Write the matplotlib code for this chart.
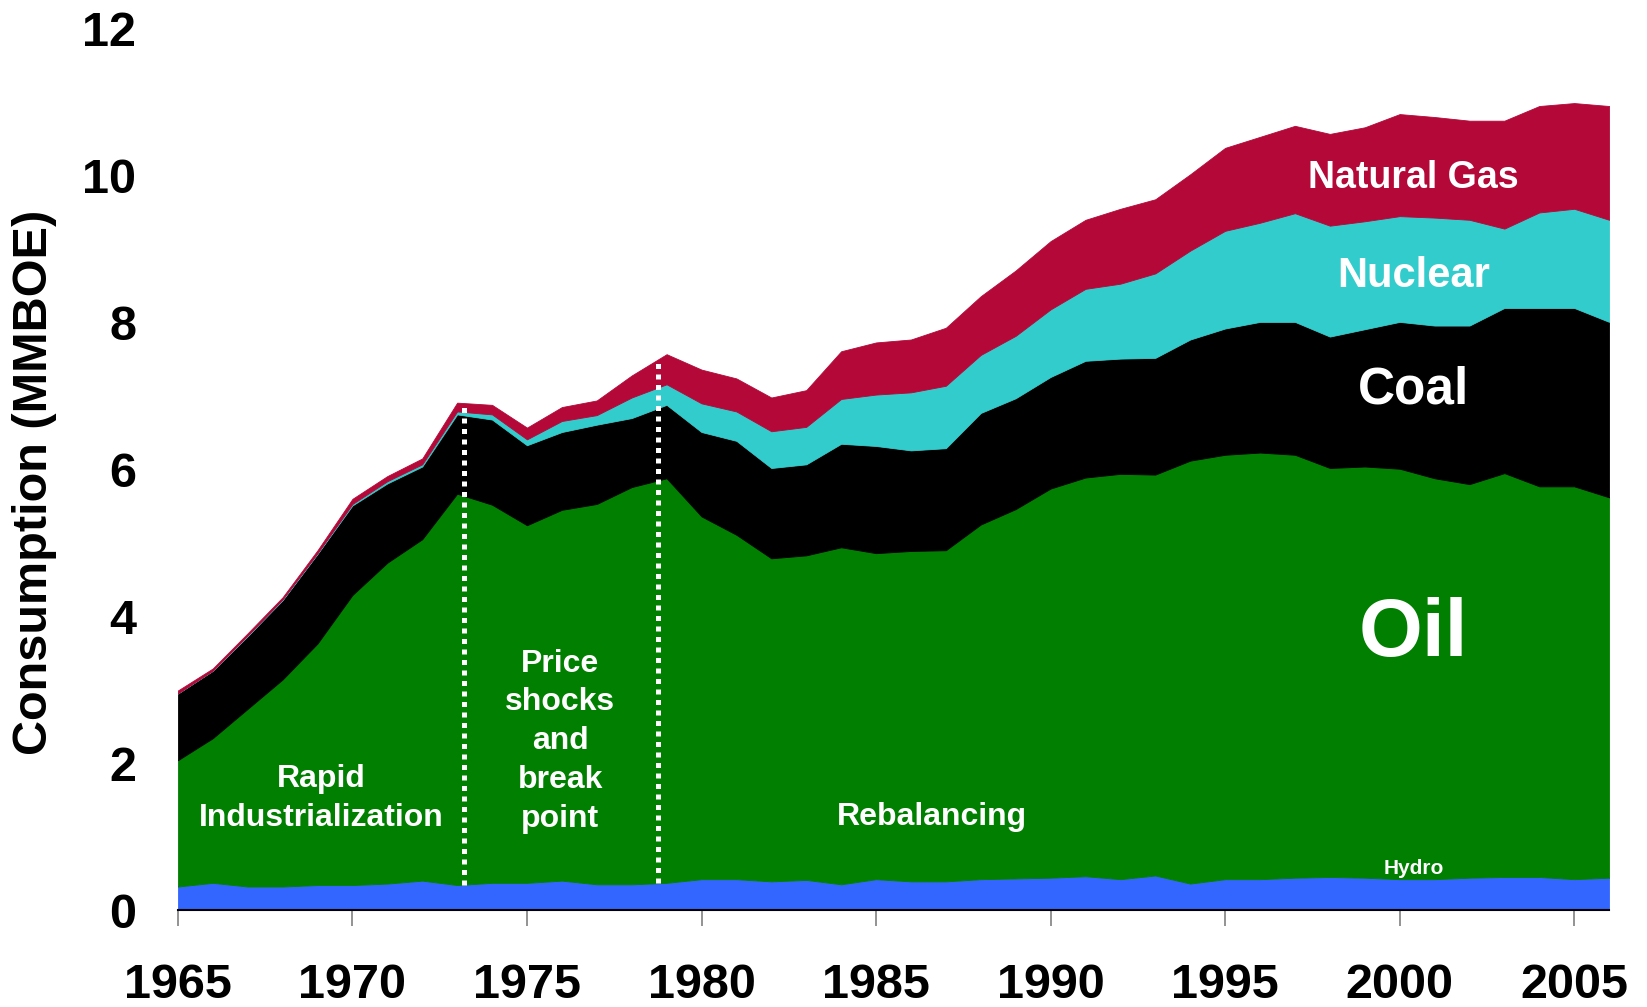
import numpy as np
import matplotlib
matplotlib.use("Agg")
import matplotlib.pyplot as plt

plt.rcParams['font.family'] = ['Liberation Sans', 'DejaVu Sans']
plt.rcParams['font.weight'] = 'bold'

# years and per-source consumption (MMBOE)
years = np.arange(1965, 2007)
hydro = [0.32, 0.37, 0.32, 0.32, 0.34, 0.34, 0.36, 0.40, 0.34, 0.37,
         0.37, 0.40, 0.35, 0.35, 0.37, 0.42, 0.42, 0.39, 0.41, 0.35,
         0.42, 0.39, 0.39, 0.42, 0.43, 0.44, 0.46, 0.42, 0.47, 0.36,
         0.42, 0.42, 0.44, 0.45, 0.44, 0.42, 0.42, 0.44, 0.45, 0.45,
         0.42, 0.44]
oil = [1.72, 1.97, 2.42, 2.82, 3.29, 3.95, 4.37, 4.65, 5.33, 5.15,
       4.87, 5.05, 5.18, 5.41, 5.51, 4.94, 4.69, 4.40, 4.42, 4.59,
       4.44, 4.50, 4.51, 4.83, 5.03, 5.30, 5.43, 5.52, 5.46, 5.76,
       5.78, 5.81, 5.76, 5.57, 5.60, 5.59, 5.46, 5.36, 5.50, 5.32,
       5.35, 5.18]
coal = [0.91, 0.92, 0.99, 1.08, 1.22, 1.22, 1.08, 0.99, 1.08, 1.16,
        1.09, 1.06, 1.08, 0.94, 1.00, 1.15, 1.28, 1.23, 1.24, 1.41,
        1.46, 1.37, 1.39, 1.52, 1.51, 1.52, 1.59, 1.57, 1.59, 1.65,
        1.72, 1.78, 1.81, 1.79, 1.87, 2.00, 2.08, 2.16, 2.25, 2.43,
        2.43, 2.39]
nuclear = [0.00, 0.00, 0.01, 0.01, 0.01, 0.02, 0.03, 0.03, 0.04, 0.07,
           0.08, 0.15, 0.13, 0.28, 0.28, 0.39, 0.40, 0.50, 0.51, 0.61,
           0.70, 0.79, 0.85, 0.79, 0.85, 0.92, 0.98, 1.02, 1.15, 1.21,
           1.33, 1.35, 1.48, 1.51, 1.47, 1.44, 1.47, 1.44, 1.08, 1.30,
           1.35, 1.39]
gas = [0.04, 0.03, 0.03, 0.03, 0.04, 0.07, 0.07, 0.08, 0.12, 0.13,
       0.16, 0.19, 0.20, 0.30, 0.41, 0.46, 0.45, 0.46, 0.50, 0.65,
       0.71, 0.72, 0.79, 0.80, 0.89, 0.93, 0.94, 1.02, 1.01, 1.04,
       1.13, 1.17, 1.19, 1.25, 1.28, 1.39, 1.37, 1.35, 1.47, 1.45,
       1.44, 1.55]

colors = ['#3366FF', '#007F00', '#000000', '#33CCCC', '#B30838']

# period breaks (dotted lines)
breaks = [1973.2, 1978.75]

fig = plt.figure(figsize=(16.47, 10.07), dpi=100)
ax = fig.add_axes([0.108, 0.0963, 0.869, 0.875])

ax.stackplot(years, hydro, oil, coal, nuclear, gas, colors=colors,
             linewidth=0.6, edgecolor='face')

total = np.sum([hydro, oil, coal, nuclear, gas], axis=0)
for b in breaks:
    top = np.interp(b, years, total)
    bot = np.interp(b, years, hydro)
    ax.plot([b, b], [bot, top], color='white', linewidth=3.6,
            linestyle=(0, (1, 1.1)), solid_capstyle='butt')

ax.set_xlim(1965, 2006)
ax.set_ylim(0, 12)
ax.set_xticks(range(1965, 2006, 5))
ax.set_yticks(range(0, 13, 2))
for s in ['left', 'right', 'top']:
    ax.spines[s].set_visible(False)
ax.spines['bottom'].set_linewidth(1.5)
ax.spines['bottom'].set_color('black')
ax.tick_params(axis='x', direction='out', length=11.5, width=1.2,
               color='#808080', pad=27, labelsize=35)
ax.tick_params(axis='y', length=0, pad=30, labelsize=35)
for lab in ax.get_xticklabels() + ax.get_yticklabels():
    lab.set_fontweight('bold')

fig.text(35 / 1647, 1 - 482 / 1007, 'Consumption (MMBOE)', rotation=90,
         ha='center', va='center', fontsize=35, fontweight='bold')

# labels inside the chart
txt = dict(color='white', fontweight='bold', ha='center', va='center')
ax.text(1969.1, 1.52, 'Rapid\nIndustrialization', fontsize=23,
        linespacing=1.38, **txt)
ax.text(1975.95, 2.3, 'Price\nshocks\nand\nbreak\npoint', fontsize=23,
        linespacing=1.38, **txt)
ax.text(1986.6, 1.27, 'Rebalancing', fontsize=23, **txt)
ax.text(2000.4, 0.56, 'Hydro', fontsize=15, **txt)
ax.text(2000.4, 3.75, 'Oil', fontsize=59, **txt)
ax.text(2000.4, 7.08, 'Coal', fontsize=37, **txt)
ax.text(2000.4, 8.63, 'Nuclear', fontsize=30, **txt)
ax.text(2000.4, 9.97, 'Natural Gas', fontsize=27, **txt)

fig.savefig('out.png', dpi=100)
